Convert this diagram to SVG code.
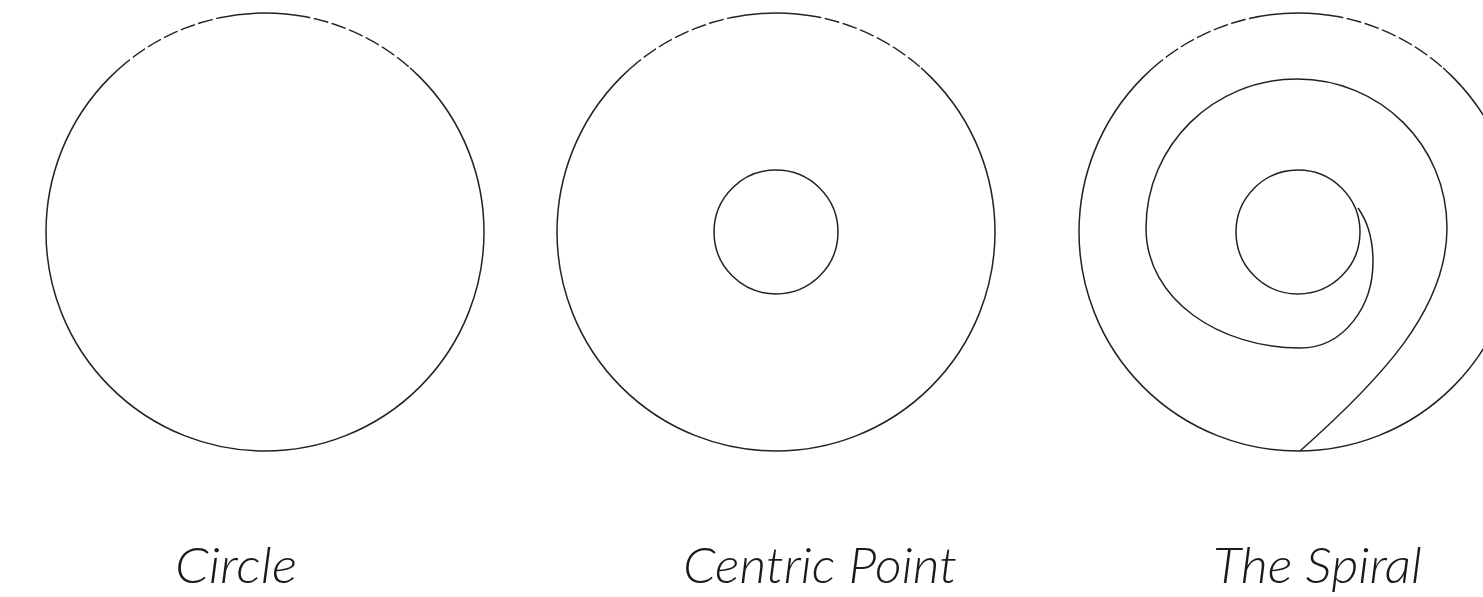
<svg xmlns="http://www.w3.org/2000/svg" xmlns:xlink="http://www.w3.org/1999/xlink" width="1483" height="597" viewBox="0 0 1483 597">
<style>
.ln{fill:none;stroke:#222;stroke-width:1.5}
.gap{fill:none;stroke:#fff;stroke-width:3.5;stroke-dasharray:3.5 15}
.lbl{font-family:Lato,"Liberation Sans",sans-serif;font-style:italic;font-weight:300;font-size:50px;fill:#1a1a1a}
</style>
<defs>
<g id="topgaps">
<path class="gap" d="M130,59.6 A219,219 0 0 1 228,16.2"/>
<path class="gap" d="M298,15.6 A219,219 0 0 1 410,67.9" style="stroke-dashoffset:6"/>
</g>
</defs>
<rect width="1483" height="597" fill="#fff"/>
<g id="circle">
<circle class="ln" cx="265" cy="232" r="219"/>
<use xlink:href="#topgaps"/>
<text class="lbl" x="175" y="583" textLength="122" lengthAdjust="spacingAndGlyphs">Circle</text>
</g>
<g id="centric-point">
<circle class="ln" cx="776" cy="232" r="219"/>
<use xlink:href="#topgaps" transform="translate(511,0)"/>
<circle class="ln" cx="776" cy="232" r="62"/>
<text class="lbl" x="683" y="583" textLength="274" lengthAdjust="spacingAndGlyphs">Centric Point</text>
</g>
<g id="the-spiral">
<circle class="ln" cx="1298" cy="232" r="219"/>
<use xlink:href="#topgaps" transform="translate(1033,0)"/>
<circle class="ln" cx="1298" cy="232" r="62"/>
<path class="ln" d="M1300,451 C1380,380 1447,310 1447,228 C1447,145 1380,79 1297,79 C1214,79 1146,145 1146,228 C1146,300 1220,348 1300,348 C1345,348 1373,305 1373,262 C1373,240 1368,222 1358,208"/>
<text class="lbl" x="1213" y="583" textLength="209" lengthAdjust="spacingAndGlyphs">The Spiral</text>
</g>
</svg>
